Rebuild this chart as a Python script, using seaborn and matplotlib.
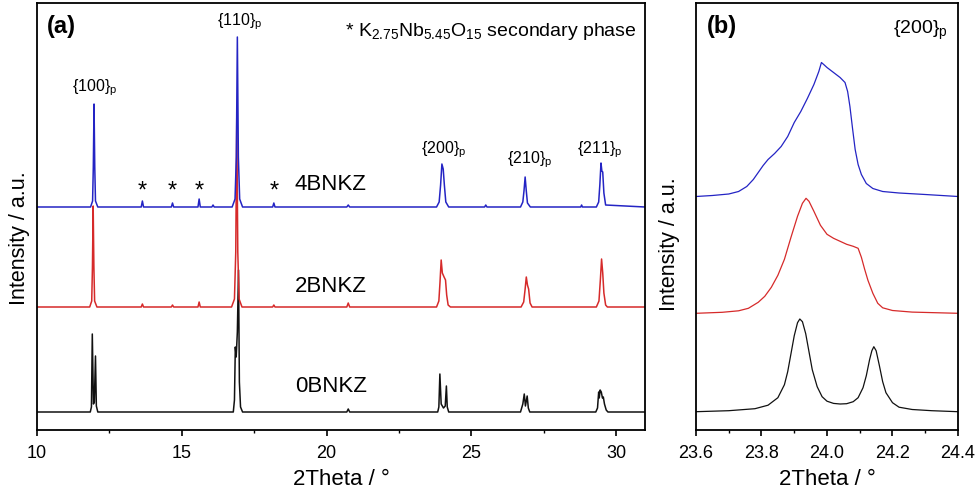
import numpy as np
import pandas as pd
import matplotlib
matplotlib.use("Agg")
import matplotlib.pyplot as plt
from matplotlib.ticker import MultipleLocator
import seaborn as sns

# ---------------- data ----------------
samples = ["0BNKZ", "2BNKZ", "4BNKZ"]
colors = {"0BNKZ": "#111111", "2BNKZ": "#d62a2a", "4BNKZ": "#2424c4"}

# Panel (a): full patterns, intensity above each baseline (a.u.)
a_4_x = [10.0, 11.85, 11.92, 11.945, 11.97, 11.995, 12.02, 12.10,
         13.60, 13.64, 13.68, 14.64, 14.68, 14.72, 15.56, 15.60, 15.64, 16.04, 16.08, 16.12,
         16.74, 16.84, 16.885, 16.92, 16.955, 17.00, 17.10,
         18.14, 18.18, 18.22, 20.70, 20.75, 20.80,
         23.80, 23.89, 23.94, 23.985, 24.03, 24.07, 24.12, 24.22,
         25.46, 25.50, 25.54,
         26.70, 26.78, 26.82, 26.86, 26.90, 26.94, 27.04,
         28.78, 28.81, 28.84,
         29.32, 29.40, 29.44, 29.48, 29.51, 29.54, 29.58, 29.64, 31.0]
a_4_y = [0, 0, 6, 40, 103, 40, 6, 0,
         0, 6, 0, 0, 4, 0, 0, 8, 0, 0, 2, 0,
         0, 8, 50, 170, 50, 8, 0,
         0, 4, 0, 0, 2, 0,
         0, 5, 22, 43, 38, 22, 5, 0,
         0, 2, 0,
         0, 5, 16, 30, 16, 4, 0,
         0, 2, 0,
         0, 5, 22, 44, 36, 35, 14, 2, 0]

a_2_x = [10.0, 11.82, 11.89, 11.915, 11.94, 11.965, 11.99, 12.07,
         13.60, 13.64, 13.68, 14.64, 14.68, 14.72, 15.56, 15.60, 15.64,
         16.72, 16.82, 16.865, 16.90, 16.935, 16.98, 17.08,
         18.14, 18.18, 18.22, 20.70, 20.75, 20.80,
         23.80, 23.88, 23.92, 23.96, 24.00, 24.06, 24.11, 24.15, 24.20, 24.28,
         26.72, 26.81, 26.86, 26.90, 26.94, 26.98, 27.03, 27.10,
         29.32, 29.41, 29.46, 29.50, 29.54, 29.58, 29.64, 29.70, 31.0]
a_2_y = [0, 0, 6, 40, 101, 40, 6, 0,
         0, 3, 0, 0, 2, 0, 0, 5, 0,
         0, 8, 55, 190, 55, 8, 0,
         0, 2, 0, 0, 4, 0,
         0, 6, 25, 47, 34, 30, 27, 12, 2, 0,
         0, 5, 18, 30, 22, 18, 4, 0,
         0, 6, 28, 48, 34, 14, 2, 0, 0]

a_0_x = [10.0, 11.84, 11.88, 11.91, 11.95, 11.98, 12.02, 12.05, 12.10,
         16.78, 16.82, 16.85, 16.88, 16.92, 16.96, 16.99, 17.03, 17.10,
         20.70, 20.75, 20.80,
         23.84, 23.88, 23.915, 23.96, 24.04, 24.10, 24.14, 24.17, 24.22,
         26.70, 26.75, 26.78, 26.83, 26.87, 26.93, 26.97, 27.02,
         29.30, 29.36, 29.40, 29.42, 29.45, 29.49, 29.53, 29.56, 29.60, 29.66, 29.72, 31.0]
a_0_y = [0, 0, 5, 78, 8, 10, 56, 6, 0,
         0, 12, 65, 55, 80, 142, 30, 5, 0,
         0, 3, 0,
         0, 5, 38, 8, 4, 6, 26, 5, 0,
         0, 5, 8, 18, 6, 16, 4, 0,
         0, 4, 20, 14, 22, 20, 14, 15, 8, 2, 0, 0]

# Panel (b): {200}p region
b_4_x = [23.60, 23.65, 23.70, 23.73, 23.755, 23.775, 23.79, 23.805, 23.82, 23.84,
         23.86, 23.88, 23.90, 23.92, 23.94, 23.96, 23.975, 23.983, 23.99, 24.00,
         24.02, 24.04, 24.055, 24.063, 24.07, 24.078, 24.086, 24.095, 24.105, 24.12,
         24.14, 24.17, 24.22, 24.30, 24.40]
b_4_y = [0, 1, 2.5, 5, 10, 17, 24, 31, 37, 43,
         50, 60, 74, 85, 98, 112, 125, 134, 132, 129,
         124, 119, 114, 105, 90, 68, 47, 32, 22, 13,
         8, 5, 3.5, 2, 0]

b_2_x = [23.60, 23.68, 23.73, 23.76, 23.79, 23.81, 23.83, 23.85, 23.87, 23.89,
         23.91, 23.925, 23.936, 23.945, 23.96, 23.98, 24.00, 24.02, 24.04, 24.06,
         24.08, 24.095, 24.105, 24.115, 24.125, 24.14, 24.155, 24.17, 24.20, 24.26, 24.40]
b_2_y = [0, 1, 2.5, 5, 11, 17, 26, 38, 54, 76,
         97, 110, 115, 112, 102, 88, 79, 75, 72, 69,
         67, 65, 56, 44, 33, 20, 10, 5.5, 2.8, 1.2, 0]

b_0_x = [23.60, 23.70, 23.78, 23.82, 23.85, 23.87, 23.88, 23.89, 23.90, 23.91,
         23.917, 23.925, 23.935, 23.945, 23.955, 23.97, 23.985, 24.00, 24.02, 24.04,
         24.06, 24.08, 24.095, 24.11, 24.12, 24.13, 24.137, 24.143, 24.15, 24.16,
         24.17, 24.18, 24.20, 24.22, 24.26, 24.32, 24.40]
b_0_y = [0, 1, 3, 6.5, 14, 27, 40, 58, 76, 89,
         92.7, 90, 78, 60, 42, 25, 15, 10.5, 8.3, 7.7,
         8, 10, 14, 24, 36, 52, 61, 65, 61, 46,
         30, 19, 9, 4.5, 2.2, 1, 0]

peak_labels = ["{100}", "{110}", "{200}", "{210}", "{211}"]
star_x = [13.64, 14.68, 15.60, 18.18]

# ---------------- styling ----------------
sns.set_theme(style="ticks")
plt.rcParams["font.family"] = ["Liberation Sans", "DejaVu Sans"]
plt.rcParams["mathtext.fontset"] = "custom"
plt.rcParams["mathtext.rm"] = "Liberation Sans"
plt.rcParams["mathtext.it"] = "Liberation Sans"
plt.rcParams["mathtext.default"] = "regular"
plt.rcParams["text.color"] = "black"
plt.rcParams["axes.labelcolor"] = "black"
plt.rcParams["xtick.color"] = "black"
plt.rcParams["xtick.labelcolor"] = "black"

fig = plt.figure(figsize=(9.78, 4.97), dpi=100)
ax1 = fig.add_axes([37 / 978, 67 / 497, 608 / 978, 427 / 497])
ax2 = fig.add_axes([696 / 978, 67 / 497, 262 / 978, 427 / 497])

off_a = {"0BNKZ": 18, "2BNKZ": 123, "4BNKZ": 223}
off_b = {"0BNKZ": 18.3, "2BNKZ": 116.7, "4BNKZ": 233.5}

data_a = {"0BNKZ": (a_0_x, a_0_y), "2BNKZ": (a_2_x, a_2_y), "4BNKZ": (a_4_x, a_4_y)}
data_b = {"0BNKZ": (b_0_x, b_0_y), "2BNKZ": (b_2_x, b_2_y), "4BNKZ": (b_4_x, b_4_y)}

for s in samples:
    x, y = data_a[s]
    df = pd.DataFrame({"x": x, "y": np.array(y, float) + off_a[s]})
    sns.lineplot(data=df, x="x", y="y", ax=ax1, color=colors[s], lw=1.1,
                 estimator=None, sort=False)
    x, y = data_b[s]
    df = pd.DataFrame({"x": x, "y": np.array(y, float) + off_b[s]})
    sns.lineplot(data=df, x="x", y="y", ax=ax2, color=colors[s], lw=0.9,
                 estimator=None, sort=False)

for ax in (ax1, ax2):
    ax.set_ylim(0, 427)
    ax.set_yticks([])
    for sp in ax.spines.values():
        sp.set_visible(True)
        sp.set_linewidth(1.3)
        sp.set_color("black")
    ax.tick_params(axis="x", which="major", direction="out", length=4.5, width=1.2,
                   labelsize=13, pad=6)
    ax.tick_params(axis="x", which="minor", direction="out", length=2.5, width=1.0)
    ax.set_xlabel("2Theta / °", fontsize=16, labelpad=5)
    ax.set_ylabel("Intensity / a.u.", fontsize=15.5)

ax1.yaxis.set_label_coords(-0.012, 0.45)
ax2.yaxis.set_label_coords(-0.06, 0.435)

ax1.set_xlim(10, 31)
ax1.xaxis.set_major_locator(MultipleLocator(5))
ax1.xaxis.set_minor_locator(MultipleLocator(2.5))
ax2.set_xlim(23.6, 24.4)
ax2.set_xticks([23.6, 23.8, 24.0, 24.2, 24.4])
ax2.set_xticklabels(["23.6", "23.8", "24.0", "24.2", "24.4"])
ax2.xaxis.set_minor_locator(MultipleLocator(0.1))

# Panel (a) annotations
ax1.text(0.016, 0.93, "(a)", transform=ax1.transAxes, fontsize=17, fontweight="bold")
lab_pos = [(12.0, 342), (17.0, 408), (24.05, 280), (27.0, 270), (29.45, 280)]
for lab, (px, py) in zip(peak_labels, lab_pos):
    ax1.text(px, py, lab + r"$_\mathrm{p}$", fontsize=11.5, ha="center", va="center")
for sx in star_x:
    ax1.text(sx, 238, "*", fontsize=17, ha="center", va="center")
ax1.text(31 - 0.3, 398, r"* K$_{2.75}$Nb$_{5.45}$O$_{15}$ secondary phase",
         fontsize=14, ha="right", va="center")
for s, yy in zip(samples, [43, 143, 245]):
    ax1.text(18.9, yy, s, fontsize=16, ha="left", va="center")

# Panel (b) annotations
ax2.text(0.04, 0.93, "(b)", transform=ax2.transAxes, fontsize=17, fontweight="bold")
ax2.text(24.37, 400, r"{200}$_\mathrm{p}$", fontsize=14, ha="right", va="center")

fig.savefig("out.png", dpi=100)
